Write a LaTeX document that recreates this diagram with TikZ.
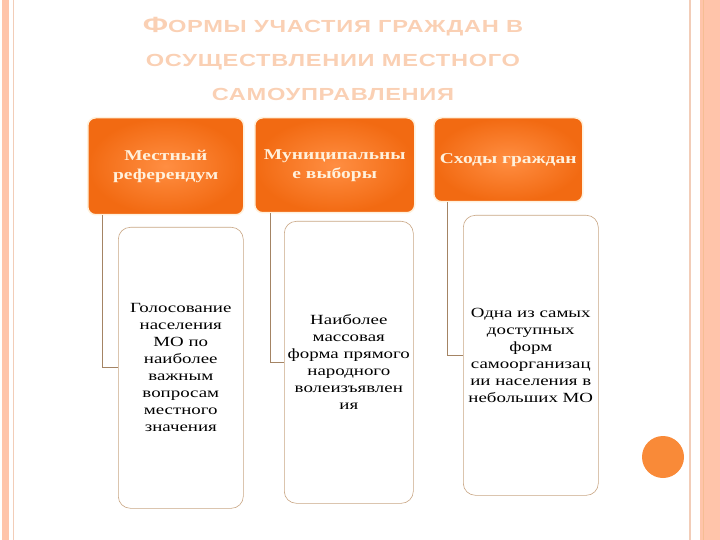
\documentclass[tikz,border=0pt]{standalone}
\usepackage{fontspec}
\setmainfont{Liberation Serif}
\newfontfamily\boxfont{Liberation Serif}[FakeStretch=1.35]
\newfontfamily\headfont{Liberation Serif}[FakeStretch=1.3]
\newfontfamily\titlefont{Liberation Sans}[FakeStretch=1.35,LetterSpace=4]
\usetikzlibrary{positioning}
\usetikzlibrary{calc}
\definecolor{stripe}{HTML}{FFC4AA}
\definecolor{stripeline}{HTML}{F2CDB8}
\definecolor{titlecol}{HTML}{FAD0B4}
\definecolor{darkorange}{HTML}{F26A12}
\definecolor{lightorange}{HTML}{FF8E42}
\definecolor{cream}{HTML}{FFF1DC}
\definecolor{frame}{HTML}{C9A684}
\definecolor{link}{HTML}{A48464}
\definecolor{dot}{HTML}{F98A38}

\begin{document}
\begin{tikzpicture}
    [x=1pt, y=-1pt,
    form/.style={rounded corners=8pt, inner color=lightorange, outer color=darkorange,
      draw=cream, line width=1.5pt, anchor=north west, align=center,
      font=\headfont\bfseries\fontsize{15}{19}\selectfont, text=cream},
    note/.style={rounded corners=12pt, draw=frame, fill=white, line width=0.6pt,
      anchor=north west, align=center, font=\boxfont\fontsize{14}{17}\selectfont},
    joint/.style={draw=link, line width=0.7pt}]
     \useasboundingbox (0,0) rectangle (720,540);
     % side stripes
     \fill[stripe] (2,0) rectangle (9,540);
     \draw[stripeline, line width=0.8pt] (13,0) -- (13,540);
     \draw[stripeline, line width=1.5pt] (690,0) -- (690,540);
     \fill[stripe] (700,0) rectangle (720,540);
     \draw[stripeline!80!orange, line width=0.8pt] (703,0) -- (703,540);
     \fill[dot] (663,457) circle (21);
     % title
     \node[text=titlecol, align=center, font=\titlefont\bfseries\fontsize{17.5}{34}\selectfont] (title) at (333,59)
       {{\fontsize{22}{34}\selectfont Ф}ОРМЫ УЧАСТИЯ ГРАЖДАН В\\
        ОСУЩЕСТВЛЕНИИ МЕСТНОГО\\
        САМОУПРАВЛЕНИЯ};
     % forms
     \node[form, minimum width=156, minimum height=97] (ref) at (87,117)
       {Местный\\референдум};
     \node[form, minimum width=160, minimum height=95] (vyb) at (254,117)
       {Муниципальны\\е выборы};
     \node[form, minimum width=149, minimum height=84] (sxod) at (433,117)
       {Сходы граждан};
     % notes
     \node[note, minimum width=125, minimum height=281] (nref) at (118,227)
       {Голосование\\населения\\МО по\\наиболее\\важным\\вопросам\\местного\\значения};
     \node[note, minimum width=129, minimum height=282] (nvyb) at (284,221)
       {Наиболее\\массовая\\форма прямого\\народного\\волеизъявлен\\ия};
     \node[note, minimum width=135, minimum height=280] (nsxod) at (463,215)
       {Одна из самых\\доступных\\форм\\самоорганизац\\ии населения в\\небольших МО};
     \draw[joint] ([xshift=15]ref.south west) |- (nref.west);
     \draw[joint] ([xshift=16]vyb.south west) |- (nvyb.west);
     \draw[joint] ([xshift=14]sxod.south west) |- (nsxod.west);
\end{tikzpicture}
\end{document}
